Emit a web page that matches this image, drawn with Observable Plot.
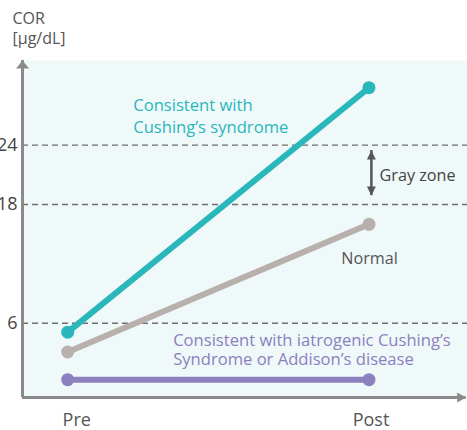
<!DOCTYPE html>
<html><head><meta charset="utf-8">
<script src="https://cdn.jsdelivr.net/npm/d3@7"></script>
<script src="https://cdn.jsdelivr.net/npm/@observablehq/plot@0.6"></script>
<style>body{margin:0;background:#fff;} svg{display:block}</style>
</head><body><div id="chart"></div>
<script>
const stages = ["Pre", "Post"];
const seriesNames = ["Cushing", "Normal", "Iatrogenic"];
const cushingValues = [5.1, 29.8];
const normalValues = [3.1, 16.0];
const iatrogenicValues = [0.3, 0.3];
const yTicks = [6, 18, 24];
const seriesColors = ["#29b7bb", "#b8b0ad", "#8c80bf"];
const yUnitLabel = "COR\n[µg/dL]";
const cushingLabel = "Consistent with\nCushing’s syndrome";
const normalLabel = "Normal";
const iatrogenicLabel = "Consistent with iatrogenic Cushing’s\nSyndrome or Addison’s disease";
const grayZoneLabel = "Gray zone";

const xMin = -0.15, xMax = 1.327, xTip = 1.3226;
const yMin = -1.5, yMax = 32.55;

const allValues = [cushingValues, normalValues, iatrogenicValues];
const rows = [];
// draw order: normal, iatrogenic, cushing
[1, 2, 0].forEach(si => {
  stages.forEach((st, i) => rows.push({series: seriesNames[si], stage: st, xi: i, value: allValues[si][i]}));
});

const arrowUp = {draw(ctx){ ctx.moveTo(0,0); ctx.lineTo(-6.5,8); ctx.lineTo(6.5,8); ctx.closePath(); }};
const arrowRight = {draw(ctx){ ctx.moveTo(0,0); ctx.lineTo(-9,-5); ctx.lineTo(-9,5); ctx.closePath(); }};
const smallUp = {draw(ctx){ ctx.moveTo(0,0); ctx.lineTo(-4.5,9); ctx.lineTo(4.5,9); ctx.closePath(); }};
const smallDown = {draw(ctx){ ctx.moveTo(0,0); ctx.lineTo(-4.5,-9); ctx.lineTo(4.5,-9); ctx.closePath(); }};

const axisColor = "#8a8a8a";
const gzX = 1.008, gzTop = 23.45, gzBottom = 18.9;

const chart = Plot.plot({
  width: 467,
  height: 430,
  marginLeft: 22,
  marginRight: 0,
  marginTop: 60,
  marginBottom: 33,
  style: {fontFamily: "'Open Sans', sans-serif", fontSize: "16px", background: "white", overflow: "visible"},
  x: {domain: [xMin, xMax], axis: null},
  y: {domain: [yMin, yMax], axis: null},
  color: {domain: seriesNames, range: seriesColors},
  marks: [
    Plot.frame({fill: "#f0f9f9", stroke: null}),
    Plot.ruleY(yTicks, {x1: xMin, x2: xMax, stroke: "#6f6f6f", strokeWidth: 1.3, strokeDasharray: "6,4"}),
    Plot.ruleX([xMin], {y1: yMin, y2: yMax, stroke: axisColor, strokeWidth: 3}),
    Plot.ruleY([yMin], {x1: xMin, x2: xTip, stroke: axisColor, strokeWidth: 3}),
    Plot.dot([0], {x: xMin, y: yMax, symbol: arrowUp, fill: axisColor, stroke: null}),
    Plot.dot([0], {x: xTip, y: yMin, symbol: arrowRight, fill: axisColor, stroke: null}),
    Plot.line(rows, {x: "xi", y: "value", z: "series", stroke: "series", strokeWidth: 6}),
    Plot.dot(rows, {x: "xi", y: "value", fill: "series", r: 6.5, stroke: null}),
    Plot.ruleX([gzX], {y1: gzBottom, y2: gzTop, stroke: "#555", strokeWidth: 2.5}),
    Plot.dot([0], {x: gzX, y: gzTop, symbol: smallUp, fill: "#555", stroke: null}),
    Plot.dot([0], {x: gzX, y: gzBottom, symbol: smallDown, fill: "#555", stroke: null}),
    Plot.text(yTicks, {x: xMin, y: d => d, text: d => String(d), dx: -5, textAnchor: "end", fontSize: 18, fill: "#444"}),
    Plot.text([stages[0]], {x: 0, y: yMin, text: d => d, dx: 9, dy: 28, lineAnchor: "bottom", fontSize: 18, fill: "#555"}),
    Plot.text([stages[1]], {x: 1, y: yMin, text: d => d, dx: 2, dy: 28, lineAnchor: "bottom", fontSize: 18, fill: "#555"}),
    Plot.text([yUnitLabel], {frameAnchor: "top-left", text: d => d, dx: -10, dy: -16.7, lineAnchor: "bottom", lineHeight: 1.25, textAnchor: "start", fontSize: 16, fill: "#555"}),
    Plot.text([cushingLabel], {x: 0.2174, y: 25.27, text: d => d, textAnchor: "start", lineAnchor: "bottom", lineHeight: 1.3, fontSize: 16.6, fill: seriesColors[0]}),
    Plot.text([normalLabel], {x: 0.908, y: 12.0, text: d => d, textAnchor: "start", lineAnchor: "bottom", fontSize: 16.2, fill: "#555"}),
    Plot.text([iatrogenicLabel], {x: 0.350, y: 1.74, text: d => d, textAnchor: "start", lineAnchor: "bottom", lineHeight: 1.2, fontSize: 16.6, fill: seriesColors[2]}),
    Plot.text([grayZoneLabel], {x: 1.035, y: 20.42, text: d => d, textAnchor: "start", lineAnchor: "bottom", fontSize: 16.2, fill: "#444"})
  ]
});
document.getElementById("chart").appendChild(chart);
</script>
</body></html>
